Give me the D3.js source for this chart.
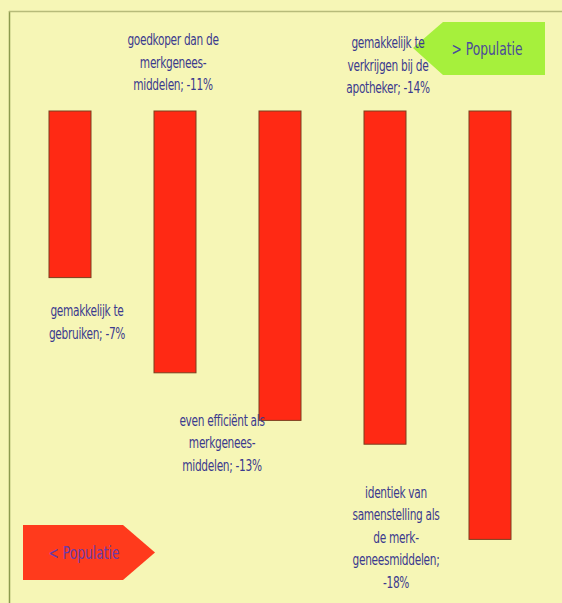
<!DOCTYPE html>
<html>
<head>
<meta charset="utf-8">
<script src="https://cdn.jsdelivr.net/npm/d3@7/dist/d3.min.js"></script>
<style>
html,body{margin:0;padding:0;background:#f6f6b6;}
svg{display:block;}
text{font-family:"DejaVu Sans Condensed","Liberation Sans Narrow",sans-serif;font-stretch:condensed;}
</style>
</head>
<body>
<svg id="c" width="562" height="603"></svg>
<script>
const categories = [
  "gemakkelijk te gebruiken",
  "goedkoper dan de merkgeneesmiddelen",
  "even efficiënt als merkgeneesmiddelen",
  "gemakkelijk te verkrijgen bij de apotheker",
  "identiek van samenstelling als de merkgeneesmiddelen"
];
const values = [-7, -11, -13, -14, -18];
const labelLines = [
  ["gemakkelijk te", "gebruiken; -7%"],
  ["goedkoper dan de", "merkgenees-", "middelen; -11%"],
  ["even efficiënt als", "merkgenees-", "middelen; -13%"],
  ["gemakkelijk te", "verkrijgen bij de", "apotheker; -14%"],
  ["identiek van", "samenstelling als", "de merk-", "geneesmiddelen;", "-18%"]
];
const legendLeft = "< Populatie";
const legendRight = "> Populatie";

// layout (not data): label anchor relative to bar ("top"/"bottom"), x/y offset of first line
const labelLayout = [
  {anchor:"bottom", dx:17, dy:33},
  {anchor:"top", dx:-2, dy:-71},
  {anchor:"bottom", dx:-58, dy:0},
  {anchor:"top", dx:3, dy:-68},
  {anchor:"bottom", dx:-94, dy:-47}
];

const svg = d3.select("#c");
const W = 562, H = 603;

svg.append("rect").attr("width",W).attr("height",H).attr("fill","#f6f6b6");

// frame lines
svg.append("line").attr("x1",9.5).attr("x2",9.5).attr("y1",11).attr("y2",H)
  .attr("stroke","#8c9a4e").attr("stroke-width",1.5);
svg.append("line").attr("x1",9).attr("x2",W).attr("y1",11.5).attr("y2",11.5)
  .attr("stroke","#b7bb7a").attr("stroke-width",1.5);

const x = d3.scaleBand().domain(categories).range([17.5, 542.5])
  .paddingInner(0.6).paddingOuter(0.3);
const y = d3.scaleLinear().domain([0, -20]).range([111, 587]);

svg.append("g").selectAll("rect").data(values).join("rect")
  .attr("x",(d,i)=>x(categories[i]))
  .attr("y",d=>y(0))
  .attr("width",x.bandwidth())
  .attr("height",d=>y(d)-y(0))
  .attr("fill","#ff2914")
  .attr("stroke","#7a3f1e")
  .attr("stroke-width",1);

// legend arrows
svg.append("path")
  .attr("d","M443,22 L545,22 L545,75 L443,75 L413,48 Z")
  .attr("fill","#a6f03c");
svg.append("text").attr("transform","translate(487,49) scale(0.76,1)").attr("dy","0.35em")
  .attr("text-anchor","middle").attr("font-size",18)
  .attr("fill","#4a4a9a")
  .text(legendRight);

svg.append("path")
  .attr("d","M23,525 L123,525 L155,552.5 L123,580 L23,580 Z")
  .attr("fill","#ff3a1c");
svg.append("text").attr("transform","translate(84,553) scale(0.76,1)").attr("dy","0.35em")
  .attr("text-anchor","middle").attr("font-size",18)
  .attr("fill","#6a3aa8")
  .text(legendLeft);

// labels
const lh = 22.5;
const lg = svg.append("g");
values.forEach((v,i)=>{
  const L = labelLayout[i];
  const cx = x(categories[i]) + x.bandwidth()/2 + L.dx;
  const base = L.anchor==="top" ? y(0) : y(v);
  const y0 = base + L.dy;
  const t = lg.append("text").attr("text-anchor","middle")
    .attr("transform",`translate(${cx},${y0}) scale(0.76,1)`)
    .attr("font-size",15.5).attr("fill","#3b3a8e").attr("letter-spacing","-0.4");
  labelLines[i].forEach((s,k)=>{
    t.append("tspan").attr("x",0).attr("y",k*lh).attr("dy","0.35em").text(s);
  });
});
</script>
</body>
</html>
